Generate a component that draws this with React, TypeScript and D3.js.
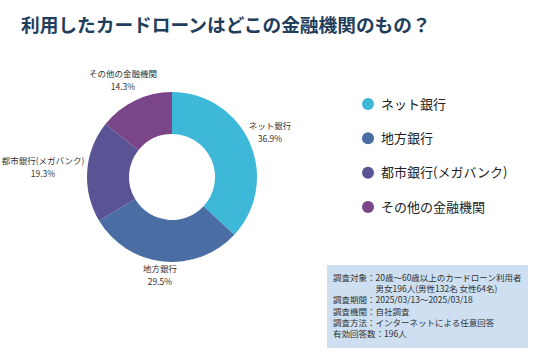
import React from "react";
import * as d3 from "d3";

const categories = ["ネット銀行", "地方銀行", "都市銀行(メガバンク)", "その他の金融機関"];
const values = [36.9, 29.5, 19.3, 14.3];
const colors = ["#3db8d9", "#4a6ea4", "#5a5495", "#7b4589"];
const infoLines = [
  ["調査対象：20歳〜60歳以上のカードローン利用者", 0],
  ["男女196人(男性132名 女性64名)", 1],
  ["調査期間：2025/03/13〜2025/03/18", 0],
  ["調査機関：自社調査", 0],
  ["調査方法：インターネットによる任意回答", 0],
  ["有効回答数：196人", 0],
];

const FONT = "'Noto Sans CJK JP', 'Noto Sans', sans-serif";

export default function App() {
  const W = 536, H = 357;
  const cx = 172, cy = 177, rOuter = 85, rInner = 43;
  const pie = d3.pie<number>().sort(null).value((d) => d);
  const arcs = pie(values);
  const arc = d3.arc<d3.PieArcDatum<number>>().innerRadius(rInner).outerRadius(rOuter);
  const labelPos = [
    [270, 129],
    [160, 272],
    [43, 164],
    [123, 77],
  ];
  const legendY = d3.scalePoint<number>().domain([0, 1, 2, 3]).range([104, 207]);
  const infoY = d3.scaleLinear().domain([0, 5]).range([281, 337]);
  return (
    <svg width={W} height={H} style={{ position: "absolute", left: 0, top: 0, fontFamily: FONT }}>
      <rect width={W} height={H} fill="#fff" />
      <text x={21} y={32} fontSize={18.7} fontWeight={700} fill="#1f3d5c">
        利用したカードローンはどこの金融機関のもの？
      </text>
      <g transform={`translate(${cx},${cy})`}>
        {arcs.map((a, i) => (
          <path key={i} d={arc(a) || ""} fill={colors[i]} />
        ))}
      </g>
      {categories.map((c, i) => (
        <g key={c} fontSize={8.5} fill="#333" textAnchor="middle">
          <text x={labelPos[i][0]} y={labelPos[i][1]}>{c}</text>
          <text x={labelPos[i][0]} y={labelPos[i][1] + 13}>{values[i].toFixed(1)}%</text>
        </g>
      ))}
      {categories.map((c, i) => (
        <g key={"l" + c}>
          <circle cx={368} cy={legendY(i)} r={6} fill={colors[i]} />
          <text x={381} y={(legendY(i) || 0) + 4.5} fontSize={13} fill="#222">{c}</text>
        </g>
      ))}
      <rect x={327} y={265} width={201} height={83} fill="#cddff0" />
      {infoLines.map((l, i) => (
        <text key={i} x={l[1] ? 375.5 : 333} y={infoY(i)} fontSize={8.5} fill="#333">
          {l[0]}
        </text>
      ))}
    </svg>
  );
}
